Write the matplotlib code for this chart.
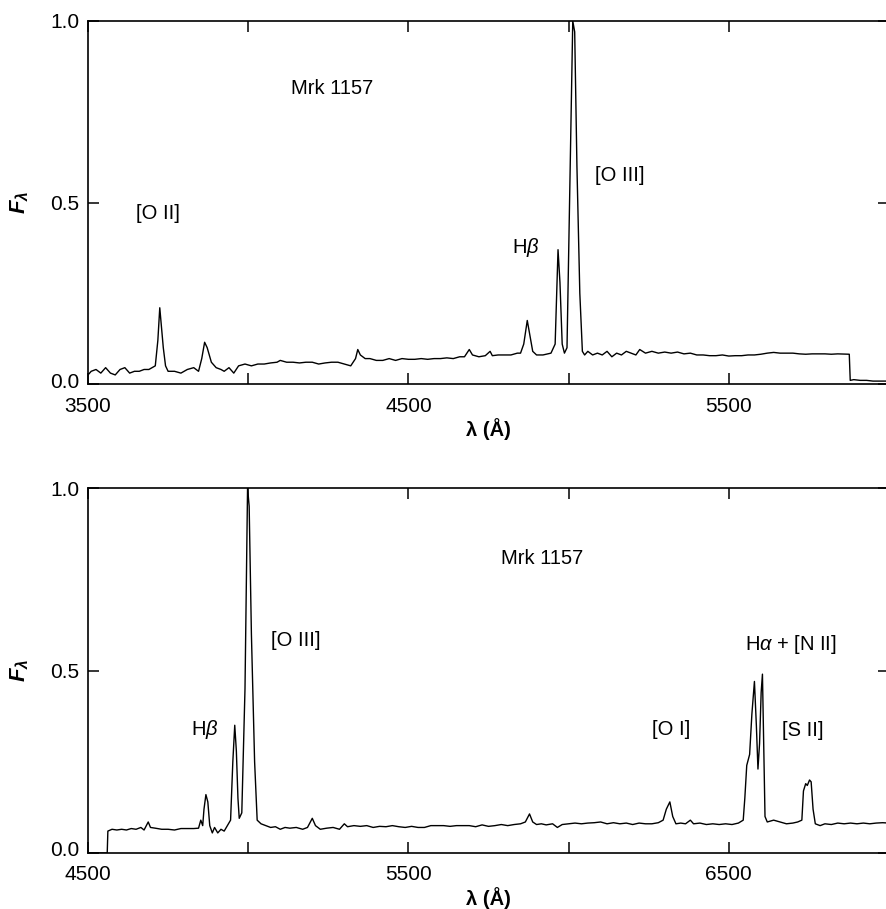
import numpy as np
import matplotlib
matplotlib.use('Agg')
import matplotlib.pyplot as plt
from matplotlib.transforms import ScaledTranslation

plt.rcParams['font.family'] = ['Liberation Sans', 'DejaVu Sans']
plt.rcParams['mathtext.fontset'] = 'custom'
plt.rcParams['mathtext.rm'] = 'Liberation Sans'
plt.rcParams['mathtext.it'] = 'Liberation Sans:italic'
plt.rcParams['mathtext.bf'] = 'Liberation Sans:bold'
plt.rcParams['mathtext.bfit'] = 'Liberation Sans:bold:italic'

# ---- top panel: blue spectrum (wavelength in A, relative flux) ----
wave_blue = [3500, 3510, 3525, 3540, 3555, 3570, 3585, 3600, 3615, 3630, 3645, 3660,
             3675, 3690, 3700, 3710, 3718, 3724, 3728, 3735, 3742, 3750, 3770, 3790,
             3810, 3830, 3845, 3855, 3864, 3872, 3885, 3900, 3915, 3925, 3940, 3955,
             3970, 3990, 4010, 4030, 4050, 4070, 4090, 4100, 4120, 4140, 4160, 4180,
             4200, 4220, 4240, 4260, 4280, 4300, 4320, 4335, 4342, 4350, 4365, 4380,
             4400, 4420, 4440, 4460, 4480, 4500, 4520, 4540, 4560, 4580, 4600, 4620,
             4640, 4660, 4675, 4690, 4700, 4720, 4740, 4755, 4762, 4780, 4800, 4820,
             4840, 4850, 4860, 4871, 4878, 4888, 4900, 4920, 4945, 4958, 4967, 4973,
             4980, 4987, 4995, 5005, 5013, 5019, 5026, 5035, 5043, 5050, 5060, 5075,
             5090, 5105, 5120, 5135, 5150, 5165, 5180, 5195, 5210, 5222, 5240, 5260,
             5280, 5300, 5320, 5340, 5360, 5380, 5400, 5420, 5440, 5460, 5480, 5500,
             5520, 5540, 5560, 5580, 5600, 5620, 5640, 5660, 5680, 5700, 5720, 5740,
             5760, 5780, 5800, 5820, 5840, 5876, 5879, 5890, 5910, 5930, 5950, 5970,
             5990, 6000]
flux_blue = [0.025, 0.035, 0.04, 0.03, 0.045, 0.03, 0.025, 0.04, 0.045, 0.03, 0.035, 0.035,
             0.04, 0.04, 0.045, 0.05, 0.12, 0.21, 0.17, 0.10, 0.05, 0.035, 0.035, 0.03,
             0.04, 0.045, 0.035, 0.07, 0.115, 0.10, 0.06, 0.045, 0.04, 0.035, 0.045, 0.03,
             0.05, 0.055, 0.05, 0.055, 0.055, 0.058, 0.06, 0.065, 0.06, 0.06, 0.058, 0.06,
             0.06, 0.055, 0.058, 0.06, 0.06, 0.055, 0.05, 0.07, 0.095, 0.08, 0.07, 0.07,
             0.065, 0.065, 0.07, 0.065, 0.07, 0.068, 0.068, 0.07, 0.068, 0.07, 0.07, 0.072,
             0.07, 0.075, 0.075, 0.095, 0.08, 0.075, 0.078, 0.09, 0.078, 0.08, 0.08, 0.08,
             0.085, 0.085, 0.11, 0.175, 0.14, 0.09, 0.08, 0.08, 0.085, 0.11, 0.37, 0.28,
             0.11, 0.085, 0.10, 0.60, 1.0, 0.97, 0.60, 0.25, 0.09, 0.08, 0.09, 0.08,
             0.085, 0.08, 0.09, 0.075, 0.085, 0.08, 0.09, 0.085, 0.08, 0.095, 0.085, 0.09,
             0.085, 0.088, 0.085, 0.088, 0.083, 0.085, 0.08, 0.08, 0.078, 0.078, 0.08, 0.077,
             0.078, 0.078, 0.08, 0.08, 0.082, 0.085, 0.087, 0.085, 0.085, 0.085, 0.083, 0.082,
             0.083, 0.083, 0.083, 0.082, 0.083, 0.082, 0.01, 0.012, 0.01, 0.01, 0.008, 0.008,
             0.008, 0.008]

# ---- bottom panel: red spectrum ----
wave_red = [4500, 4560, 4562, 4575, 4590, 4605, 4620, 4635, 4650, 4665, 4675, 4688,
            4695, 4710, 4730, 4750, 4770, 4790, 4810, 4830, 4845, 4852, 4858, 4862,
            4868, 4874, 4880, 4888, 4895, 4905, 4915, 4925, 4935, 4945, 4952, 4958,
            4963, 4968, 4972, 4980, 4990, 4998, 5003, 5010, 5020, 5028, 5040, 5055,
            5070, 5085, 5100, 5115, 5130, 5150, 5170, 5185, 5200, 5210, 5225, 5245,
            5265, 5285, 5300, 5310, 5330, 5350, 5370, 5390, 5410, 5430, 5450, 5470,
            5490, 5510, 5530, 5550, 5570, 5590, 5610, 5630, 5650, 5670, 5690, 5710,
            5730, 5750, 5770, 5790, 5810, 5830, 5850, 5865, 5878, 5888, 5900, 5915,
            5930, 5950, 5965, 5980, 6000, 6020, 6040, 6060, 6080, 6100, 6120, 6140,
            6160, 6180, 6200, 6220, 6240, 6260, 6280, 6295, 6305, 6316, 6325, 6335,
            6350, 6365, 6380, 6390, 6410, 6430, 6450, 6470, 6490, 6510, 6530, 6545,
            6550, 6556, 6565, 6572, 6580, 6586, 6591, 6596, 6601, 6605, 6609, 6613,
            6620, 6640, 6660, 6680, 6700, 6715, 6728, 6733, 6740, 6745, 6752, 6757,
            6763, 6770, 6785, 6800, 6820, 6840, 6860, 6880, 6900, 6920, 6940, 6960,
            6980, 7000]
flux_red = [0.0, 0.0, 0.06, 0.065, 0.063, 0.065, 0.063, 0.067, 0.065, 0.07, 0.063, 0.085,
            0.07, 0.068, 0.065, 0.065, 0.063, 0.067, 0.067, 0.067, 0.068, 0.09, 0.075, 0.12,
            0.16, 0.14, 0.075, 0.055, 0.07, 0.055, 0.065, 0.06, 0.075, 0.09, 0.25, 0.35,
            0.28, 0.15, 0.095, 0.11, 0.45, 1.0, 0.95, 0.60, 0.25, 0.09, 0.08, 0.075,
            0.07, 0.072, 0.065, 0.07, 0.068, 0.07, 0.065, 0.07, 0.095, 0.075, 0.065, 0.068,
            0.07, 0.065, 0.08, 0.072, 0.075, 0.073, 0.075, 0.07, 0.073, 0.072, 0.075, 0.072,
            0.07, 0.073, 0.07, 0.07, 0.075, 0.075, 0.075, 0.073, 0.075, 0.075, 0.075, 0.072,
            0.077, 0.073, 0.075, 0.078, 0.075, 0.078, 0.08, 0.085, 0.107, 0.085, 0.078, 0.08,
            0.077, 0.08, 0.07, 0.078, 0.08, 0.082, 0.08, 0.082, 0.083, 0.085, 0.08, 0.083,
            0.08, 0.082, 0.078, 0.082, 0.08, 0.08, 0.083, 0.09, 0.12, 0.14, 0.10, 0.08,
            0.082, 0.08, 0.09, 0.08, 0.082, 0.078, 0.08, 0.078, 0.08, 0.078, 0.082, 0.09,
            0.15, 0.24, 0.27, 0.38, 0.47, 0.35, 0.23, 0.30, 0.44, 0.49, 0.30, 0.10,
            0.085, 0.09, 0.085, 0.08, 0.082, 0.085, 0.09, 0.17, 0.19, 0.185, 0.20, 0.195,
            0.12, 0.08, 0.075, 0.08, 0.078, 0.082, 0.08, 0.082, 0.08, 0.082, 0.08, 0.082,
            0.083, 0.082]

# line labels: (text, wavelength, flux)
labels_blue = [('Mrk 1157', 4263, 0.815), ('[O II]', 3718, 0.47), (r'H$\beta$', 4865, 0.375),
               ('[O III]', 5160, 0.575)]
labels_red = [('Mrk 1157', 5916, 0.808), ('[O III]', 5147, 0.583), (r'H$\beta$', 4866, 0.337),
              ('[O I]', 6319, 0.337), (r'H$\alpha$ + [N II]', 6694, 0.57), ('[S II]', 6731, 0.335)]


fig = plt.figure(figsize=(8.86, 9.09), dpi=100)
ax1 = fig.add_axes([88/886, 525/909, 801/886, 363/909])
ax2 = fig.add_axes([88/886, 56/909, 801/886, 365/909])


def style(ax, x0, x1, lbls):
    ax.set_xlim(x0, x1)
    ax.set_ylim(0, 1)
    xt = np.arange(x0, x1 + 1, 500)
    ax.set_xticks(xt)
    ax.set_xticklabels([str(int(v)) if i % 2 == 0 else '' for i, v in enumerate(xt)])
    ax.set_yticks([0, 0.5, 1.0])
    ax.set_yticklabels(['0.0', '0.5', '1.0'])
    ax.tick_params(direction='in', top=True, right=True, length=8, width=1.1,
                   labelsize=15)
    ax.tick_params(axis='x', pad=9)
    ax.tick_params(axis='y', pad=6)
    # the 0.0 label sits a little above the corner in the original
    lab0 = ax.get_yticklabels()[0]
    lab0.set_transform(lab0.get_transform() + ScaledTranslation(0, 0.04, fig.dpi_scale_trans))
    for s in ax.spines.values():
        s.set_linewidth(1.2)
    ax.set_xlabel('λ (Å)', fontsize=14.5, fontweight='bold', labelpad=2)
    ax.set_ylabel(r'$\mathbfit{F}_{\mathbfit{\lambda}}$', fontsize=16, labelpad=14)
    for t, x, y in lbls:
        ax.text(x, y, t, fontsize=14.5, ha='center', va='center')


ax1.plot(wave_blue, flux_blue, color='black', lw=1.0)
ax2.plot(wave_red, flux_red, color='black', lw=1.0)
style(ax1, 3500, 6000, labels_blue)
style(ax2, 4500, 7000, labels_red)

fig.savefig('out.png', dpi=100)
